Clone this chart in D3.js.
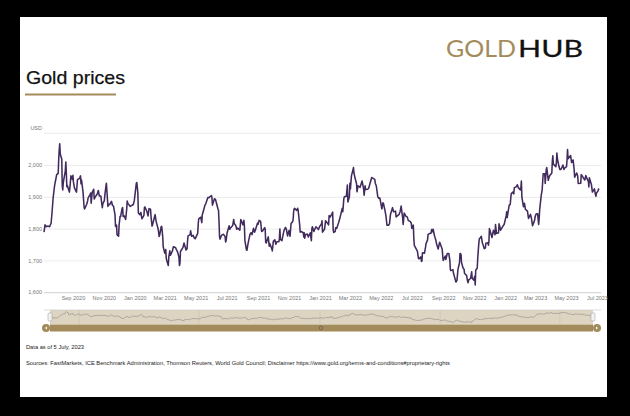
<!DOCTYPE html>
<html><head><meta charset="utf-8">
<script src="https://cdn.jsdelivr.net/npm/d3@7"></script>
<style>html,body{margin:0;padding:0;background:#000;}svg{display:block;}</style>
</head><body><svg id="c" width="630" height="416"></svg>
<script>
const dates = [
"2020-07-06","2020-07-08","2020-07-10","2020-07-14","2020-07-17","2020-07-20","2020-07-22","2020-07-24","2020-07-27","2020-07-29","2020-07-31",
"2020-08-03","2020-08-04","2020-08-05","2020-08-06","2020-08-07","2020-08-10","2020-08-11","2020-08-12","2020-08-13","2020-08-17","2020-08-18","2020-08-19","2020-08-20","2020-08-21","2020-08-25","2020-08-26","2020-08-28","2020-08-31",
"2020-09-01","2020-09-02","2020-09-04","2020-09-08","2020-09-10","2020-09-14","2020-09-16","2020-09-17","2020-09-18","2020-09-21","2020-09-23","2020-09-24","2020-09-28","2020-09-30",
"2020-10-01","2020-10-05","2020-10-06","2020-10-07","2020-10-09","2020-10-12","2020-10-13","2020-10-15","2020-10-19","2020-10-21","2020-10-23","2020-10-26","2020-10-28","2020-10-29","2020-10-30",
"2020-11-02","2020-11-03","2020-11-05","2020-11-06","2020-11-09","2020-11-10","2020-11-12","2020-11-16","2020-11-18","2020-11-20","2020-11-23","2020-11-24","2020-11-26","2020-11-27","2020-11-30",
"2020-12-01","2020-12-03","2020-12-04","2020-12-07","2020-12-08","2020-12-09","2020-12-11","2020-12-14","2020-12-16","2020-12-17","2020-12-18","2020-12-21","2020-12-23","2020-12-29","2020-12-31",
"2021-01-04","2021-01-05","2021-01-06","2021-01-07","2021-01-08","2021-01-11","2021-01-13","2021-01-15","2021-01-19","2021-01-20","2021-01-21","2021-01-25","2021-01-27","2021-01-29",
"2021-02-01","2021-02-02","2021-02-04","2021-02-05","2021-02-08","2021-02-10","2021-02-12","2021-02-16","2021-02-18","2021-02-19","2021-02-22","2021-02-23","2021-02-25","2021-02-26",
"2021-03-01","2021-03-03","2021-03-04","2021-03-05","2021-03-08","2021-03-09","2021-03-11","2021-03-12","2021-03-16","2021-03-18","2021-03-22","2021-03-24","2021-03-26","2021-03-29","2021-03-30","2021-03-31",
"2021-04-01","2021-04-06","2021-04-08","2021-04-12","2021-04-14","2021-04-15","2021-04-16","2021-04-20","2021-04-21","2021-04-23","2021-04-26","2021-04-28","2021-04-30",
"2021-05-04","2021-05-05","2021-05-06","2021-05-07","2021-05-11","2021-05-13","2021-05-14","2021-05-17","2021-05-19","2021-05-21","2021-05-25","2021-05-27","2021-05-28",
"2021-06-01","2021-06-02","2021-06-03","2021-06-07","2021-06-09","2021-06-11","2021-06-14","2021-06-15","2021-06-16","2021-06-17","2021-06-18","2021-06-21","2021-06-23","2021-06-25","2021-06-28","2021-06-29","2021-06-30",
"2021-07-01","2021-07-02","2021-07-06","2021-07-07","2021-07-09","2021-07-13","2021-07-15","2021-07-16","2021-07-19","2021-07-21","2021-07-23","2021-07-27","2021-07-29","2021-07-30",
"2021-08-02","2021-08-04","2021-08-05","2021-08-06","2021-08-09","2021-08-10","2021-08-12","2021-08-13","2021-08-16","2021-08-18","2021-08-20","2021-08-23","2021-08-25","2021-08-27","2021-08-31",
"2021-09-01","2021-09-03","2021-09-06","2021-09-08","2021-09-10","2021-09-14","2021-09-15","2021-09-16","2021-09-17","2021-09-21","2021-09-23","2021-09-24","2021-09-28","2021-09-29","2021-09-30",
"2021-10-01","2021-10-04","2021-10-06","2021-10-08","2021-10-12","2021-10-13","2021-10-14","2021-10-15","2021-10-18","2021-10-20","2021-10-22","2021-10-25","2021-10-27","2021-10-29",
"2021-11-01","2021-11-03","2021-11-05","2021-11-08","2021-11-09","2021-11-10","2021-11-11","2021-11-12","2021-11-16","2021-11-18","2021-11-19","2021-11-22","2021-11-23","2021-11-25","2021-11-29","2021-11-30",
"2021-12-01","2021-12-02","2021-12-03","2021-12-07","2021-12-09","2021-12-13","2021-12-15","2021-12-16","2021-12-17","2021-12-20","2021-12-22","2021-12-24","2021-12-29","2021-12-31",
"2022-01-04","2022-01-05","2022-01-06","2022-01-10","2022-01-12","2022-01-14","2022-01-18","2022-01-19","2022-01-21","2022-01-25","2022-01-26","2022-01-27","2022-01-28","2022-01-31",
"2022-02-01","2022-02-03","2022-02-07","2022-02-09","2022-02-11","2022-02-14","2022-02-15","2022-02-17","2022-02-18","2022-02-22","2022-02-24","2022-02-25","2022-02-28",
"2022-03-01","2022-03-02","2022-03-04","2022-03-07","2022-03-08","2022-03-09","2022-03-11","2022-03-14","2022-03-15","2022-03-17","2022-03-21","2022-03-23","2022-03-25","2022-03-28","2022-03-29","2022-03-31",
"2022-04-01","2022-04-05","2022-04-07","2022-04-11","2022-04-13","2022-04-14","2022-04-19","2022-04-20","2022-04-22","2022-04-25","2022-04-27","2022-04-29",
"2022-05-03","2022-05-05","2022-05-06","2022-05-09","2022-05-11","2022-05-13","2022-05-16","2022-05-18","2022-05-20","2022-05-24","2022-05-26","2022-05-30","2022-05-31",
"2022-06-06","2022-06-08","2022-06-10","2022-06-13","2022-06-14","2022-06-16","2022-06-20","2022-06-22","2022-06-24","2022-06-28","2022-06-30",
"2022-07-01","2022-07-04","2022-07-05","2022-07-06","2022-07-08","2022-07-12","2022-07-14","2022-07-15","2022-07-19","2022-07-20","2022-07-21","2022-07-22","2022-07-26","2022-07-28","2022-07-29",
"2022-08-01","2022-08-02","2022-08-04","2022-08-08","2022-08-09","2022-08-11","2022-08-12","2022-08-15","2022-08-17","2022-08-19","2022-08-22","2022-08-24","2022-08-25","2022-08-30","2022-08-31",
"2022-09-01","2022-09-05","2022-09-06","2022-09-09","2022-09-12","2022-09-14","2022-09-15","2022-09-16","2022-09-20","2022-09-21","2022-09-23","2022-09-26","2022-09-28","2022-09-30",
"2022-10-03","2022-10-04","2022-10-06","2022-10-07","2022-10-10","2022-10-12","2022-10-13","2022-10-17","2022-10-19","2022-10-20","2022-10-21","2022-10-25","2022-10-27","2022-10-28","2022-10-31",
"2022-11-01","2022-11-02","2022-11-03","2022-11-04","2022-11-07","2022-11-08","2022-11-10","2022-11-11","2022-11-15","2022-11-17","2022-11-21","2022-11-23","2022-11-24","2022-11-28","2022-11-29","2022-11-30",
"2022-12-01","2022-12-02","2022-12-06","2022-12-08","2022-12-09","2022-12-12","2022-12-13","2022-12-15","2022-12-19","2022-12-20","2022-12-22","2022-12-23","2022-12-28","2022-12-30",
"2023-01-03","2023-01-04","2023-01-05","2023-01-09","2023-01-11","2023-01-12","2023-01-13","2023-01-16","2023-01-18","2023-01-19","2023-01-23","2023-01-25","2023-01-27","2023-01-31",
"2023-02-01","2023-02-02","2023-02-03","2023-02-06","2023-02-08","2023-02-10","2023-02-14","2023-02-16","2023-02-20","2023-02-22","2023-02-24","2023-02-28",
"2023-03-01","2023-03-03","2023-03-06","2023-03-08","2023-03-09","2023-03-10","2023-03-13","2023-03-15","2023-03-17","2023-03-20","2023-03-21","2023-03-23","2023-03-24","2023-03-27","2023-03-29","2023-03-31",
"2023-04-03","2023-04-04","2023-04-05","2023-04-06","2023-04-11","2023-04-12","2023-04-13","2023-04-14","2023-04-17","2023-04-19","2023-04-21","2023-04-25","2023-04-27","2023-04-28",
"2023-05-02","2023-05-03","2023-05-04","2023-05-05","2023-05-10","2023-05-12","2023-05-15","2023-05-17","2023-05-18","2023-05-22","2023-05-24","2023-05-25","2023-05-30","2023-05-31",
"2023-06-02","2023-06-05","2023-06-07","2023-06-09","2023-06-12","2023-06-14","2023-06-15","2023-06-16","2023-06-20","2023-06-22","2023-06-26","2023-06-28","2023-06-29","2023-06-30",
"2023-07-03","2023-07-04","2023-07-05"
];
const prices = [
1789,1812,1806,1808,1806,1817,1854,1897,1937,1953,1970,
1974,2018,2048,2067,2035,2019,1935,1922,1945,1982,2010,1976,1932,1936,1915,1928,1966,1955,
1968,1947,1928,1915,1954,1958,1966,1941,1953,1914,1868,1862,1876,1887,
1897,1908,1912,1880,1914,1924,1893,1900,1909,1920,1903,1903,1877,1866,1879,
1888,1907,1932,1943,1870,1877,1875,1886,1873,1871,1843,1807,1811,1781,1776,
1811,1839,1838,1864,1866,1838,1840,1829,1861,1887,1880,1874,1870,1876,1888,
1943,1945,1929,1912,1849,1844,1851,1831,1842,1867,1868,1853,1840,1863,
1861,1837,1808,1812,1832,1844,1823,1799,1775,1780,1806,1807,1775,1743,
1723,1734,1706,1700,1684,1711,1730,1716,1729,1743,1741,1734,1728,1711,1684,1691,
1728,1741,1755,1733,1737,1762,1777,1781,1793,1776,1779,1771,1768,
1782,1785,1815,1831,1836,1819,1844,1860,1873,1879,1898,1897,1899,
1904,1899,1874,1894,1892,1880,1862,1858,1823,1776,1767,1779,1781,1782,1775,1758,1763,
1776,1787,1809,1798,1803,1810,1829,1816,1810,1798,1802,1795,1829,1825,
1812,1826,1810,1763,1733,1732,1751,1759,1782,1787,1781,1801,1789,1797,1818,
1814,1826,1823,1791,1793,1803,1799,1757,1755,1774,1745,1753,1737,1730,1743,
1760,1765,1751,1759,1759,1768,1799,1766,1762,1779,1794,1804,1797,1777,
1794,1776,1816,1822,1827,1852,1862,1864,1857,1864,1857,1812,1789,1791,1787,1774,
1787,1770,1781,1783,1774,1787,1762,1799,1806,1791,1799,1806,1797,1806,
1815,1825,1789,1798,1825,1821,1812,1841,1836,1848,1852,1797,1788,1791,
1803,1801,1820,1832,1845,1864,1853,1894,1900,1902,1937,1884,1900,
1943,1925,1966,1985,1992,1975,1960,1942,1916,1935,1930,1940,1950,1925,1905,1935,
1923,1924,1927,1950,1961,1960,1955,1943,1935,1900,1895,1897,
1862,1881,1880,1858,1841,1811,1811,1815,1845,1866,1853,1855,1837,
1845,1854,1871,1833,1813,1849,1838,1837,1826,1822,1817,
1801,1811,1769,1747,1741,1729,1707,1705,1711,1697,1698,1724,1723,1741,1753,
1764,1781,1784,1786,1797,1790,1798,1776,1766,1751,1736,1751,1757,1735,1713,
1700,1714,1703,1722,1722,1700,1671,1668,1671,1661,1649,1632,1637,1672,
1692,1722,1719,1694,1676,1672,1659,1653,1634,1630,1638,1644,1664,1644,1638,
1644,1650,1623,1669,1676,1708,1752,1767,1776,1756,1737,1739,1754,1756,1748,1758,
1800,1795,1772,1788,1795,1781,1813,1785,1787,1815,1803,1795,1809,1813,
1840,1853,1835,1874,1876,1894,1910,1915,1909,1928,1932,1938,1929,1922,
1928,1950,1900,1869,1880,1861,1855,1832,1845,1831,1809,1826,
1837,1846,1847,1813,1830,1859,1903,1923,1973,1973,1942,1986,1992,1952,1964,1969,
1975,2012,2029,2003,1995,2008,2038,2020,1996,1986,1986,2000,1986,1990,
1995,2016,2049,2020,2030,2008,2016,1986,1962,1975,1966,1942,1943,1970,
1966,1957,1953,1967,1955,1949,1931,1960,1939,1915,1925,1907,1902,1912,
1918,1925,1922
];
const yTickValues = [1600, 1700, 1800, 1900, 2000];
const yTickLabels = ["1,600", "1,700", "1,800", "1,900", "2,000"];
const yTopGrid = 2100;
const yAxisTitle = "USD";
const xTickDates = ["2020-09-01","2020-11-01","2021-01-01","2021-03-01","2021-05-01","2021-07-01","2021-09-01","2021-11-01","2022-01-01","2022-03-01","2022-05-01","2022-07-01","2022-09-01","2022-11-01","2023-01-01","2023-03-01","2023-05-01","2023-07-01"];
const xTickLabels = ["Sep 2020","Nov 2020","Jan 2020","Mar 2021","May 2021","Jul 2021","Sep 2021","Nov 2021","Jan 2021","Mar 2022","May 2022","Jul 2022","Sep 2022","Nov 2022","Jan 2022","Mar 2023","May 2023","Jul 2023"];
const navGridDates = ["2020-09-01","2021-05-01","2022-01-01","2022-09-01","2023-05-01"];
const titleText = "Gold prices";
const logoGold = "GOLD", logoHub = "HUB";
const noteDate = "Data as of 5 July, 2023";
const noteSources = "Sources: FastMarkets, ICE Benchmark Administration, Thomson Reuters, World Gold Council; Disclaimer https://www.gold.org/terms-and-conditions#proprietary-rights";

const FONT = "'Liberation Sans', Arial, Helvetica, sans-serif";
const GOLDC = "#a38b5b";
const parse = d3.timeParse("%Y-%m-%d");
const series = dates.map((d, i) => ({ date: parse(d), value: prices[i] }));

const svg = d3.select("#c");
svg.append("rect").attr("width", 630).attr("height", 416).attr("fill", "#000");
svg.append("rect").attr("x", 20).attr("y", 17).attr("width", 587).attr("height", 380).attr("fill", "#fff");

// Logo
const LOGOFONT = "Lato, 'Open Sans', sans-serif";
svg.append("text").attr("x", 446).attr("y", 57).attr("font-family", LOGOFONT)
  .attr("font-size", 24).attr("fill", GOLDC).attr("textLength", 70).attr("lengthAdjust", "spacingAndGlyphs").text(logoGold);
svg.append("text").attr("x", 518).attr("y", 57).attr("font-family", LOGOFONT)
  .attr("font-size", 24).attr("fill", "#111").attr("stroke", "#111").attr("stroke-width", 0.3)
  .attr("textLength", 65).attr("lengthAdjust", "spacingAndGlyphs").text(logoHub);

// Title
svg.append("text").attr("x", 26).attr("y", 84).attr("font-family", FONT).attr("font-size", 19)
  .attr("fill", "#111").attr("stroke", "#111").attr("stroke-width", 0.25)
  .attr("textLength", 99).attr("lengthAdjust", "spacingAndGlyphs").text(titleText);
svg.append("rect").attr("x", 25).attr("y", 93.5).attr("width", 91).attr("height", 2).attr("fill", GOLDC);

// Scales
const L = 44, R = 601;
const x = d3.scaleTime().domain(d3.extent(series, d => d.date)).range([L, 599]);
const y = d3.scaleLinear().domain([1600, 2100]).range([292.2, 133.3]);

// Y axis with gridlines
const gy = svg.append("g").attr("transform", `translate(${L},0)`)
  .call(d3.axisLeft(y).tickValues(yTickValues).tickSize(-(R - L)).tickPadding(2)
    .tickFormat((d, i) => yTickLabels[i]));
gy.select(".domain").remove();
gy.selectAll(".tick line").attr("stroke", "#e6e6e6").attr("stroke-width", 0.8);
gy.selectAll(".tick text").attr("font-family", FONT).attr("font-size", 5.5).attr("fill", "#777");
svg.append("line").attr("x1", L).attr("x2", R).attr("y1", y(yTopGrid)).attr("y2", y(yTopGrid))
  .attr("stroke", "#e6e6e6").attr("stroke-width", 0.8);
svg.append("text").attr("x", L - 2).attr("y", y(yTopGrid) - 3).attr("text-anchor", "end")
  .attr("font-family", FONT).attr("font-size", 5.5).attr("fill", "#777").text(yAxisTitle);

// X axis
const gx = svg.append("g").attr("transform", `translate(0,${y(1600)})`)
  .call(d3.axisBottom(x).tickValues(xTickDates.map(parse)).tickSize(0).tickPadding(4)
    .tickFormat((d, i) => xTickLabels[i]));
gx.select(".domain").attr("stroke", "#cccccc").attr("stroke-width", 0.8).attr("d", `M${L},0.5H${R}`);
gx.selectAll(".tick text").attr("font-family", FONT).attr("font-size", 5.5).attr("fill", "#777");

// Main line
svg.append("path").datum(series).attr("fill", "none").attr("stroke", "#412a5c")
  .attr("stroke-width", 1.55).attr("stroke-linejoin", "round")
  .attr("d", d3.line().x(d => x(d.date)).y(d => y(d.value)));

// Navigator
const NL = 50, NR = 593, NT = 310, NB = 324.3;
const nx = d3.scaleTime().domain(x.domain()).range([NL + 1, NR - 1]);
const ny = d3.scaleLinear().domain(d3.extent(prices)).range([322.5, 311.5]);
svg.append("rect").attr("x", NL).attr("y", NT).attr("width", NR - NL).attr("height", NB - NT).attr("fill", "#ddd4c2");
svg.append("g").selectAll("line").data(navGridDates.map(parse)).join("line")
  .attr("x1", d => nx(d)).attr("x2", d => nx(d)).attr("y1", NT).attr("y2", NB)
  .attr("stroke", "#cbc1ad").attr("stroke-width", 0.6);
svg.append("path").datum(series).attr("fill", "none").attr("stroke", "#8e8a84").attr("stroke-width", 0.6)
  .attr("d", d3.line().x(d => nx(d.date)).y(d => ny(d.value)));
svg.append("line").attr("x1", L).attr("x2", R).attr("y1", NT).attr("y2", NT).attr("stroke", "#cccccc").attr("stroke-width", 0.7);
[NL, NR].forEach(hx => {
  svg.append("rect").attr("x", hx - 2).attr("y", 313).attr("width", 4).attr("height", 8).attr("rx", 1)
    .attr("fill", "#f2f2f2").attr("stroke", "#999").attr("stroke-width", 0.5);
});

// Scrollbar
svg.append("rect").attr("x", NL).attr("y", 324.5).attr("width", NR - NL).attr("height", 7).attr("fill", GOLDC);
[[46, -1], [597, 1]].forEach(([cx, dir]) => {
  svg.append("circle").attr("cx", cx).attr("cy", 328).attr("r", 4).attr("fill", GOLDC);
  svg.append("path").attr("d", `M${cx - dir * 1},${326.5} L${cx + dir * 1},328 L${cx - dir * 1},329.5 Z`).attr("fill", "#fff");
});
svg.append("circle").attr("cx", 321).attr("cy", 328).attr("r", 1.8).attr("fill", "none").attr("stroke", "#555").attr("stroke-width", 0.6);

// Notes
svg.append("text").attr("x", 26).attr("y", 348.8).attr("font-family", FONT).attr("font-size", 5.8)
  .attr("fill", "#222").attr("textLength", 58).attr("lengthAdjust", "spacingAndGlyphs").text(noteDate);
svg.append("text").attr("x", 26).attr("y", 364.8).attr("font-family", FONT).attr("font-size", 5.8)
  .attr("fill", "#222").attr("textLength", 424).attr("lengthAdjust", "spacingAndGlyphs").text(noteSources);
</script></body></html>
